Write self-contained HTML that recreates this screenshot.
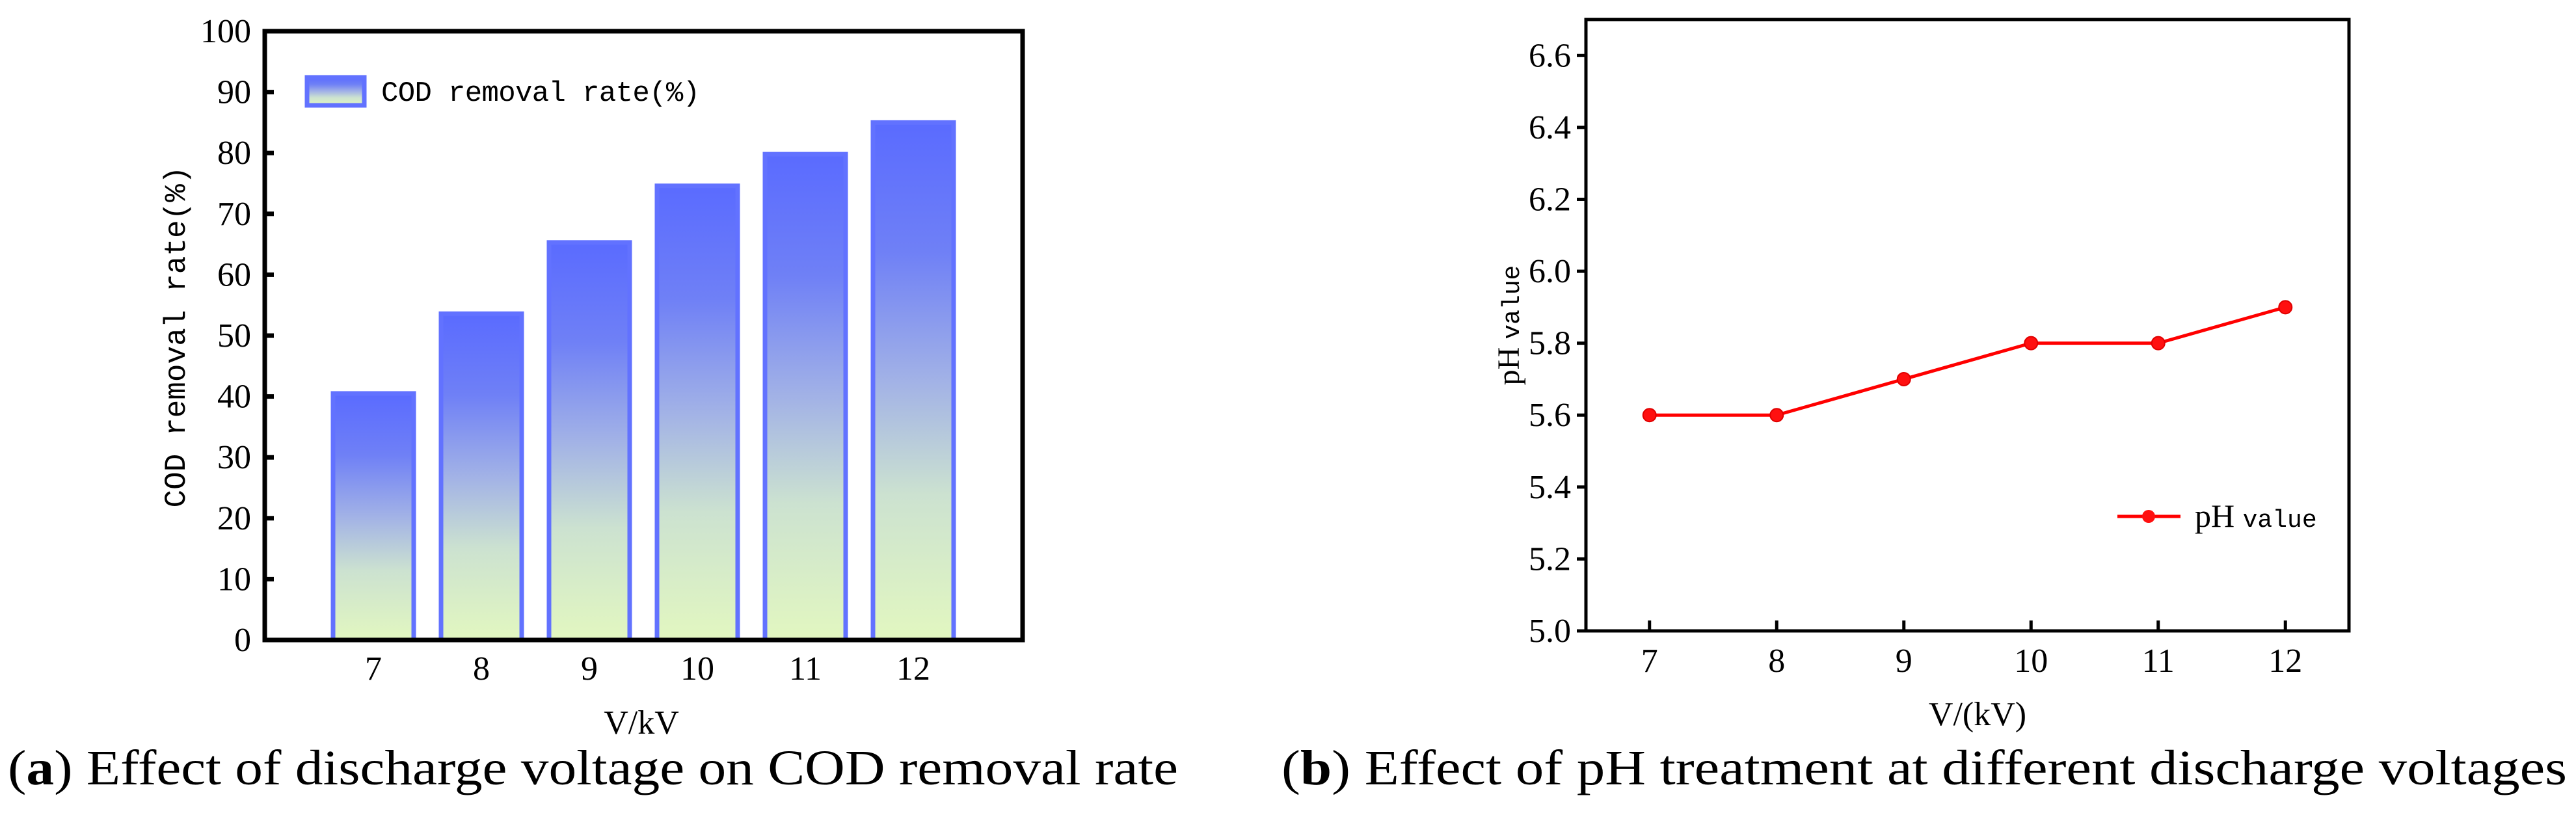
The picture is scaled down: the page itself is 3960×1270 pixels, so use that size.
<!DOCTYPE html>
<html><head><meta charset="utf-8"><style>
html,body{margin:0;padding:0;background:#fff;}
svg{display:block;}
</style></head><body>
<svg id="fig" width="3960" height="1270" viewBox="0 0 3960 1270" xmlns="http://www.w3.org/2000/svg">
<defs>
<linearGradient id="barGrad" x1="0" y1="0" x2="0" y2="1">
<stop offset="0" stop-color="#5a6bff"/>
<stop offset="0.25" stop-color="#6f80f6"/>
<stop offset="0.5" stop-color="#a2b2e6"/>
<stop offset="0.72" stop-color="#cce2d0"/>
<stop offset="1" stop-color="#e2f7c0"/>
</linearGradient>
</defs>
<g id="chartA"></g>
<g id="chartB"></g>
<text x="12" y="1206" font-family="Liberation Serif, serif" font-size="76" textLength="1799" lengthAdjust="spacingAndGlyphs" fill="#000">(<tspan font-weight="bold">a</tspan>) Effect of discharge voltage on COD removal rate</text>
<text x="1970" y="1206" font-family="Liberation Serif, serif" font-size="76" textLength="1976" lengthAdjust="spacingAndGlyphs" fill="#000">(<tspan font-weight="bold">b</tspan>) Effect of pH treatment at different discharge voltages</text>
</svg>
<script>
const NS='http://www.w3.org/2000/svg';
const catsA=['7','8','9','10','11','12'];
const codValues=[40.5,53.6,65.3,74.6,79.8,85.0];
const yTicksA=[0,10,20,30,40,50,60,70,80,90,100];
const catsB=[7,8,9,10,11,12];
const phValues=[5.6,5.6,5.7,5.8,5.8,5.9];
const yTicksB=['5.0','5.2','5.4','5.6','5.8','6.0','6.2','6.4','6.6'];

function mk(tag,attrs,parent){const e=document.createElementNS(NS,tag);for(const k in attrs)e.setAttribute(k,attrs[k]);parent.appendChild(e);return e;}

// Chart A
const gA=document.getElementById('chartA');
const A={l:407,r:1572,t:48,b:984};
const yA=v=>A.b-(v-0)/(100-0)*(A.b-A.t);
const xA=i=>574+i*166;
const bw=124;
codValues.forEach((v,i)=>{
  const r=mk('rect',{x:xA(i)-bw/2,y:yA(v),width:bw,height:yA(0)-yA(v),fill:'url(#barGrad)',stroke:'#6272ff','stroke-width':7},gA);
  
  
  const t=mk('text',{x:xA(i),y:1045,'text-anchor':'middle','font-family':'Liberation Serif, serif','font-size':52},gA);
  t.textContent=catsA[i];
  
  
});
yTicksA.forEach(v=>{
  const y=yA(v);
  const tk=mk('line',{x1:A.l,x2:A.l+14,y1:y,y2:y,stroke:'#000','stroke-width':7},gA);
  
  
  const t=mk('text',{x:386,y:y+17,'text-anchor':'end','font-family':'Liberation Serif, serif','font-size':52},gA);
  t.textContent=v;
  
  
});
const frA=mk('rect',{x:A.l,y:A.t,width:A.r-A.l,height:A.b-A.t,fill:'none',stroke:'#000','stroke-width':7},gA);


const lsw=mk('rect',{x:472,y:119,width:88,height:43,fill:'url(#barGrad)',stroke:'#6272ff','stroke-width':7},gA);


const lt=mk('text',{x:586,y:155,'font-family':'Liberation Mono, monospace','font-size':44,textLength:490},gA);
lt.textContent='COD removal rate(%)';


const yt=mk('text',{x:0,y:0,transform:'translate(284,518) rotate(-90)','text-anchor':'middle','font-family':'Liberation Mono, monospace','font-size':46,textLength:525},gA);
yt.textContent='COD removal rate(%)';


const xt=mk('text',{x:986,y:1128,'text-anchor':'middle','font-family':'Liberation Serif, serif','font-size':52},gA);
xt.textContent='V/kV';



// Chart B
const gB=document.getElementById('chartB');
const B={l:2438,r:3611,t:30,b:970};
const yB=v=>B.b-(v-5.0)/(6.7-5.0)*(B.b-B.t);
const xB=v=>B.l+(v-6.5)/(12.5-6.5)*(B.r-B.l);
yTicksB.forEach(s=>{
  const y=yB(parseFloat(s));
  const tk=mk('line',{x1:B.l-14,x2:B.l,y1:y,y2:y,stroke:'#000','stroke-width':5},gB);
  
  
  const t=mk('text',{x:2415,y:y+17,'text-anchor':'end','font-family':'Liberation Serif, serif','font-size':52},gB);
  t.textContent=s;
  
  
});
catsB.forEach(c=>{
  const x=xB(c);
  const tk=mk('line',{x1:x,x2:x,y1:B.b-16,y2:B.b,stroke:'#000','stroke-width':5},gB);
  
  
  const t=mk('text',{x:x,y:1033,'text-anchor':'middle','font-family':'Liberation Serif, serif','font-size':52},gB);
  t.textContent=c;
  
  
});
const frB=mk('rect',{x:B.l,y:B.t,width:B.r-B.l,height:B.b-B.t,fill:'none',stroke:'#000','stroke-width':5},gB);


const pts=phValues.map((v,i)=>xB(catsB[i])+','+yB(v)).join(' ');
const pl=mk('polyline',{points:pts,fill:'none',stroke:'#ff0000','stroke-width':5},gB);


phValues.forEach((v,i)=>{
  const c=mk('circle',{cx:xB(catsB[i]),cy:yB(v),r:10,fill:'#ff1010',stroke:'#e00000','stroke-width':2},gB);
  
  
});
const ll=mk('line',{x1:3255,x2:3352,y1:794,y2:794,stroke:'#ff0000','stroke-width':5},gB);


const lm=mk('circle',{cx:3303,cy:794,r:10,fill:'#ff1010'},gB);


const lt2=mk('text',{x:3374,y:810,'font-family':'Liberation Serif, serif','font-size':50},gB);
lt2.innerHTML='pH <tspan font-family="Liberation Mono, monospace" font-size="38">value</tspan>';


const yt2=mk('text',{x:0,y:0,transform:'translate(2335,500) rotate(-90)','text-anchor':'middle','font-family':'Liberation Serif, serif','font-size':48},gB);
yt2.innerHTML='pH <tspan font-family="Liberation Mono, monospace" font-size="38">value</tspan>';


const xt2=mk('text',{x:3040,y:1115,'text-anchor':'middle','font-family':'Liberation Serif, serif','font-size':52},gB);
xt2.textContent='V/(kV)';


</script>
</body></html>
